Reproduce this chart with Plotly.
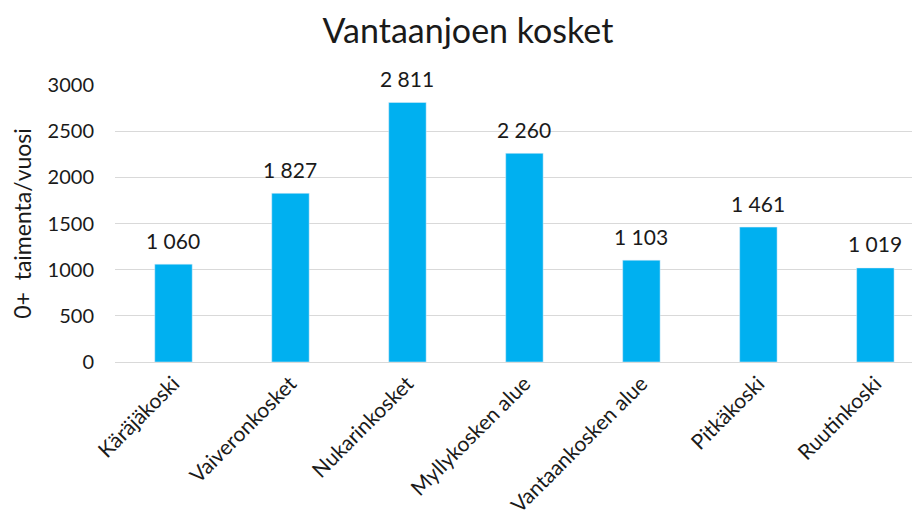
import plotly.graph_objects as go

sites = ["Käräjäkoski", "Vaiveronkosket", "Nukarinkosket", "Myllykosken alue",
         "Vantaankosken alue", "Pitkäkoski", "Ruutinkoski"]
trout = [1060, 1827, 2811, 2260, 1103, 1461, 1019]
labels = [f"{v:,}".replace(",", " ") for v in trout]

font_name = "Lato, Liberation Sans, sans-serif"

fig = go.Figure(go.Bar(
    x=sites, y=trout, marker_color="#00B0F0", width=0.32,
))

# value labels above the bars
for s, v, t in zip(sites, trout, labels):
    fig.add_annotation(x=s, y=v, text=t, showarrow=False, yanchor="middle",
                       yshift=24, font=dict(size=21, color="#1a1a1a"))

fig.update_layout(
    width=920, height=524,
    paper_bgcolor="white", plot_bgcolor="white",
    font=dict(family=font_name, color="#1a1a1a"),
    title=dict(text="Vantaanjoen kosket", x=0.5, xanchor="center",
               y=0.955, yanchor="middle", font=dict(size=34)),
    margin=dict(l=107, r=0, t=77, b=170),
    showlegend=False,
    xaxis=dict(range=[-0.5, 6.45], tickangle=-45, tickfont=dict(size=21),
               showline=True, linecolor="#d9d9d9", linewidth=1, ticks="",
               automargin=False),
    yaxis=dict(range=[0, 3000], dtick=500, tickfont=dict(size=20),
               gridcolor="#d9d9d9", zeroline=False, ticks="",
               ticklabelstandoff=20, automargin=False,
               title=dict(text="0+  taimenta/vuosi", font=dict(size=23), standoff=14)),
)

fig.write_html("out.html")
